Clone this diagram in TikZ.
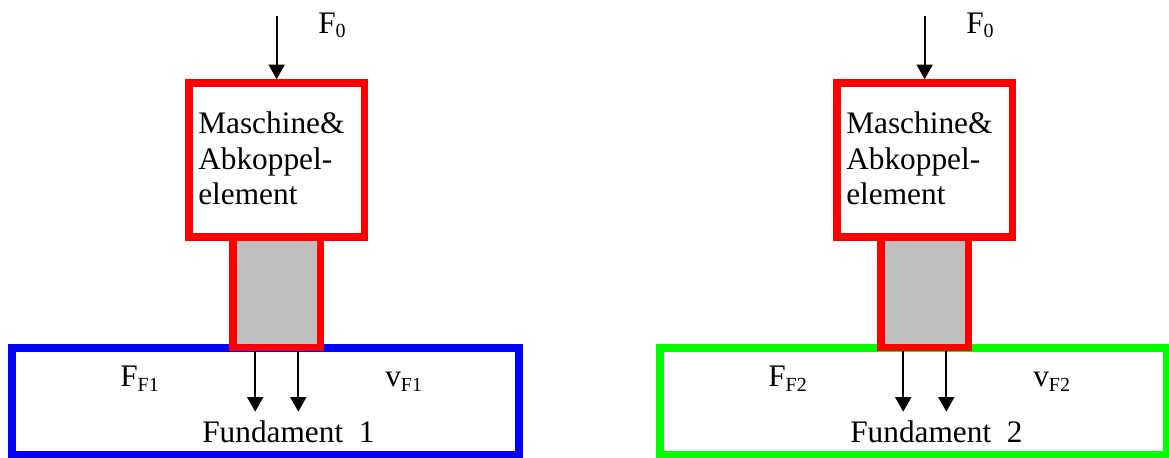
\documentclass[tikz,border=0pt]{standalone}
\usepackage{fontspec}
\setmainfont{Liberation Serif}
\usetikzlibrary{arrows.meta,calc}
\definecolor{silverfill}{RGB}{191,191,191}
\newcommand\subtx[1]{\raisebox{-3.4pt}{\fontsize{15pt}{15pt}\selectfont #1}}
\begin{document}
\begin{tikzpicture}[x=0.75pt,y=-0.75pt,
  redbox/.style={draw=red, line width=5.7pt, inner sep=0pt},
  found/.style={draw=#1, line width=6pt, inner sep=0pt, fill=white,
    minimum width=379.9pt, minimum height=80.6pt},
  force/.style={draw=black, line width=1.5pt, -{Triangle[width=12pt,length=11pt]}},
  txt/.style={inner sep=0pt, font=\fontsize{23.5pt}{26.6pt}\selectfont}]
\useasboundingbox (0,0) rectangle (1169,457);
\foreach \i/\sx/\col in {1/0/blue,2/648/green}{
  \node[found=\col] (f\i) at (265.45+\sx,401.25) {};
  \node[redbox, fill=white, minimum width=131.8pt, minimum height=115.5pt] (m\i) at (276.65+\sx,160) {};
  \node[redbox, fill=silverfill, minimum width=65.6pt, minimum height=82.9pt] (g\i) at (276.75+\sx,292.25) {};
  \coordinate (top\i) at (276.65+\sx,16);
  \draw[force] (top\i) -- (m\i.north);
  \coordinate (ea\i) at (255.2+\sx,411.7);
  \coordinate (eb\i) at (298.3+\sx,411.7);
  \draw[force] (ea\i |- g\i.south) -- (ea\i);
  \draw[force] (eb\i |- g\i.south) -- (eb\i);
  \node[txt, anchor=base west] (F0\i) at (318+\sx,33.3) {F\subtx{0}};
  \node[txt, anchor=base west] (FF\i) at (120+\sx,386.7) {F\subtx{F\i}};
  \node[txt, anchor=base west] (v\i) at (385+\sx,386.7) {v\subtx{F\i}};
  \node[txt, anchor=base west] (fu\i) at (202+\sx,442.3) {Fundament\ \ \i};
  \node[txt, anchor=north west, align=left] (mt\i) at (198+\sx,111.9) {Maschine\&\\Abkoppel-\\element};
}
\end{tikzpicture}
\end{document}
